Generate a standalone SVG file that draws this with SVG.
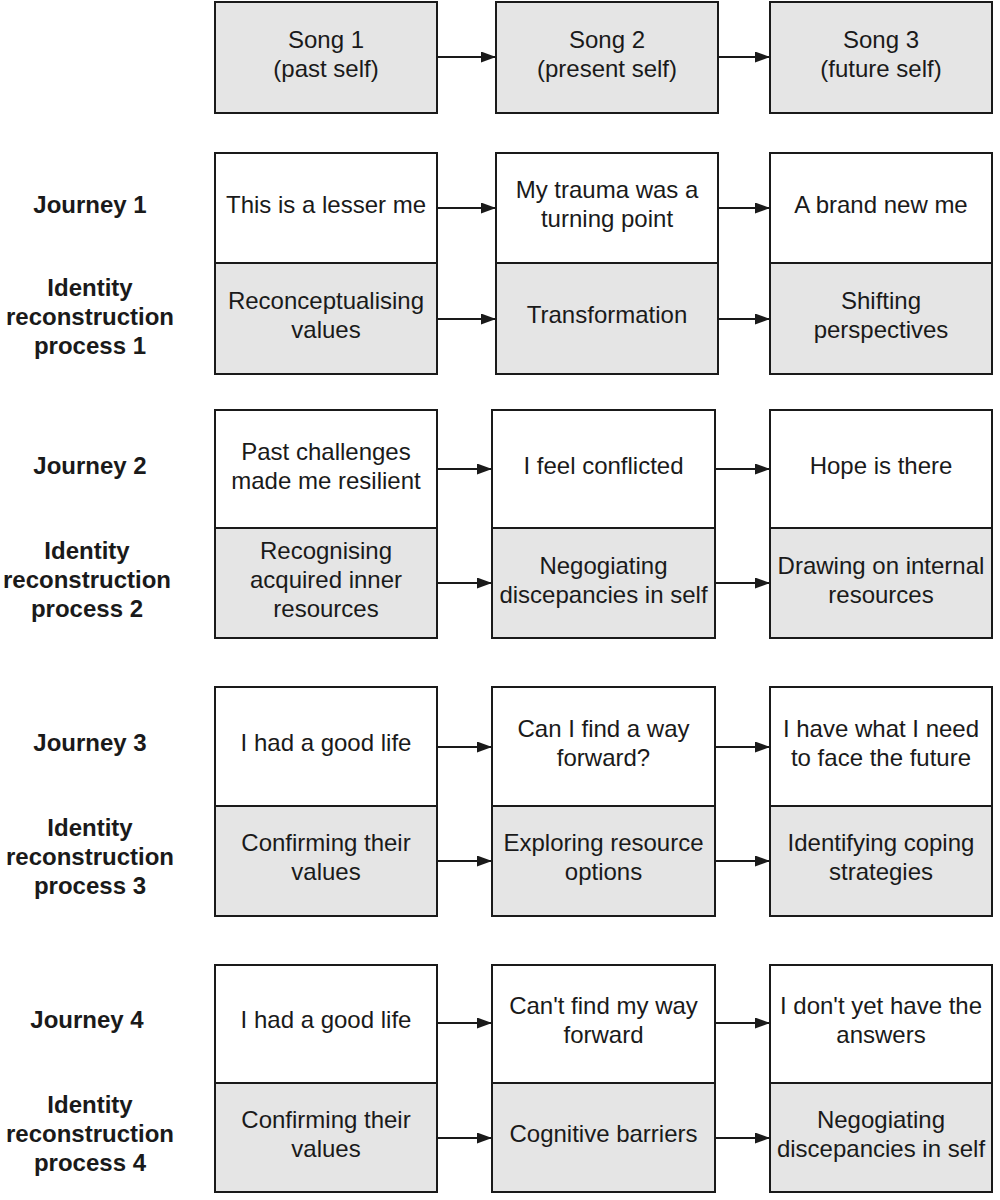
<svg xmlns="http://www.w3.org/2000/svg" width="1000" height="1200" viewBox="0 0 1000 1200">
<style>
text{font-family:"Liberation Sans",Arial,sans-serif;font-size:24px;fill:#1a1a1a;text-anchor:middle}
.lab{font-weight:bold}
.w{fill:#ffffff;stroke:#1a1a1a;stroke-width:2}
.g{fill:#e5e5e5;stroke:#1a1a1a;stroke-width:2}
.c{stroke:#1a1a1a;stroke-width:2;fill:none;marker-end:url(#ah)}
</style>
<defs>
<marker id="ah" markerUnits="userSpaceOnUse" markerWidth="16" markerHeight="12" refX="15" refY="5.5" orient="auto">
<path d="M0,0 L15,5.5 L0,11 Z" fill="#1a1a1a"/>
</marker>
</defs>
<rect width="1000" height="1200" fill="#ffffff"/>

<g id="labels">
<g id="label-j1"><text class="lab" x="90" y="213">Journey 1</text></g>
<g id="label-p1"><text class="lab" x="90" y="296">Identity</text><text class="lab" x="90" y="325">reconstruction</text><text class="lab" x="90" y="354">process 1</text></g>
<g id="label-j2"><text class="lab" x="90" y="474">Journey 2</text></g>
<g id="label-p2"><text class="lab" x="87" y="559">Identity</text><text class="lab" x="87" y="588">reconstruction</text><text class="lab" x="87" y="617">process 2</text></g>
<g id="label-j3"><text class="lab" x="90" y="751">Journey 3</text></g>
<g id="label-p3"><text class="lab" x="90" y="836">Identity</text><text class="lab" x="90" y="865">reconstruction</text><text class="lab" x="90" y="894">process 3</text></g>
<g id="label-j4"><text class="lab" x="87" y="1028">Journey 4</text></g>
<g id="label-p4"><text class="lab" x="90" y="1113">Identity</text><text class="lab" x="90" y="1142">reconstruction</text><text class="lab" x="90" y="1171">process 4</text></g>
</g>

<g id="connectors">
<line class="c" x1="437" y1="57" x2="496" y2="57"/>
<line class="c" x1="718" y1="57" x2="770" y2="57"/>
<line class="c" x1="437" y1="208" x2="496" y2="208"/>
<line class="c" x1="718" y1="208" x2="770" y2="208"/>
<line class="c" x1="437" y1="319" x2="496" y2="319"/>
<line class="c" x1="718" y1="319" x2="770" y2="319"/>
<line class="c" x1="437" y1="469" x2="492" y2="469"/>
<line class="c" x1="715" y1="469" x2="770" y2="469"/>
<line class="c" x1="437" y1="583" x2="492" y2="583"/>
<line class="c" x1="715" y1="583" x2="770" y2="583"/>
<line class="c" x1="437" y1="747" x2="492" y2="747"/>
<line class="c" x1="715" y1="747" x2="770" y2="747"/>
<line class="c" x1="437" y1="861" x2="492" y2="861"/>
<line class="c" x1="715" y1="861" x2="770" y2="861"/>
<line class="c" x1="437" y1="1023" x2="492" y2="1023"/>
<line class="c" x1="715" y1="1023" x2="770" y2="1023"/>
<line class="c" x1="437" y1="1138" x2="492" y2="1138"/>
<line class="c" x1="715" y1="1138" x2="770" y2="1138"/>
</g>

<g id="song1"><rect class="g" x="215" y="2" width="222" height="111"/><text x="326" y="48">Song 1</text><text x="326" y="77">(past self)</text></g>
<g id="song2"><rect class="g" x="496" y="2" width="222" height="111"/><text x="607" y="48">Song 2</text><text x="607" y="77">(present self)</text></g>
<g id="song3"><rect class="g" x="770" y="2" width="222" height="111"/><text x="881" y="48">Song 3</text><text x="881" y="77">(future self)</text></g>

<g id="j1a"><rect class="w" x="215" y="153" width="222" height="110"/><text x="326" y="213">This is a lesser me</text></g>
<g id="j1b"><rect class="w" x="496" y="153" width="222" height="110"/><text x="607" y="198">My trauma was a</text><text x="607" y="227">turning point</text></g>
<g id="j1c"><rect class="w" x="770" y="153" width="222" height="110"/><text x="881" y="213">A brand new me</text></g>
<g id="p1a"><rect class="g" x="215" y="263" width="222" height="111"/><text x="326" y="309">Reconceptualising</text><text x="326" y="338">values</text></g>
<g id="p1b"><rect class="g" x="496" y="263" width="222" height="111"/><text x="607" y="323">Transformation</text></g>
<g id="p1c"><rect class="g" x="770" y="263" width="222" height="111"/><text x="881" y="309">Shifting</text><text x="881" y="338">perspectives</text></g>

<g id="j2a"><rect class="w" x="215" y="410" width="222" height="118"/><text x="326" y="460">Past challenges</text><text x="326" y="489">made me resilient</text></g>
<g id="j2b"><rect class="w" x="492" y="410" width="223" height="118"/><text x="603.5" y="474">I feel conflicted</text></g>
<g id="j2c"><rect class="w" x="770" y="410" width="222" height="118"/><text x="881" y="474">Hope is there</text></g>
<g id="p2a"><rect class="g" x="215" y="528" width="222" height="110"/><text x="326" y="559">Recognising</text><text x="326" y="588">acquired inner</text><text x="326" y="617">resources</text></g>
<g id="p2b"><rect class="g" x="492" y="528" width="223" height="110"/><text x="603.5" y="574">Negogiating</text><text x="603.5" y="603">discepancies in self</text></g>
<g id="p2c"><rect class="g" x="770" y="528" width="222" height="110"/><text x="881" y="574">Drawing on internal</text><text x="881" y="603">resources</text></g>

<g id="j3a"><rect class="w" x="215" y="687" width="222" height="119"/><text x="326" y="751">I had a good life</text></g>
<g id="j3b"><rect class="w" x="492" y="687" width="223" height="119"/><text x="603.5" y="737">Can I find a way</text><text x="603.5" y="766">forward?</text></g>
<g id="j3c"><rect class="w" x="770" y="687" width="222" height="119"/><text x="881" y="737">I have what I need</text><text x="881" y="766">to face the future</text></g>
<g id="p3a"><rect class="g" x="215" y="806" width="222" height="110"/><text x="326" y="851">Confirming their</text><text x="326" y="880">values</text></g>
<g id="p3b"><rect class="g" x="492" y="806" width="223" height="110"/><text x="603.5" y="851">Exploring resource</text><text x="603.5" y="880">options</text></g>
<g id="p3c"><rect class="g" x="770" y="806" width="222" height="110"/><text x="881" y="851">Identifying coping</text><text x="881" y="880">strategies</text></g>

<g id="j4a"><rect class="w" x="215" y="965" width="222" height="118"/><text x="326" y="1028">I had a good life</text></g>
<g id="j4b"><rect class="w" x="492" y="965" width="223" height="118"/><text x="603.5" y="1014">Can't find my way</text><text x="603.5" y="1043">forward</text></g>
<g id="j4c"><rect class="w" x="770" y="965" width="222" height="118"/><text x="881" y="1014">I don't yet have the</text><text x="881" y="1043">answers</text></g>
<g id="p4a"><rect class="g" x="215" y="1083" width="222" height="109"/><text x="326" y="1128">Confirming their</text><text x="326" y="1157">values</text></g>
<g id="p4b"><rect class="g" x="492" y="1083" width="223" height="109"/><text x="603.5" y="1142">Cognitive barriers</text></g>
<g id="p4c"><rect class="g" x="770" y="1083" width="222" height="109"/><text x="881" y="1128">Negogiating</text><text x="881" y="1157">discepancies in self</text></g>
</svg>
